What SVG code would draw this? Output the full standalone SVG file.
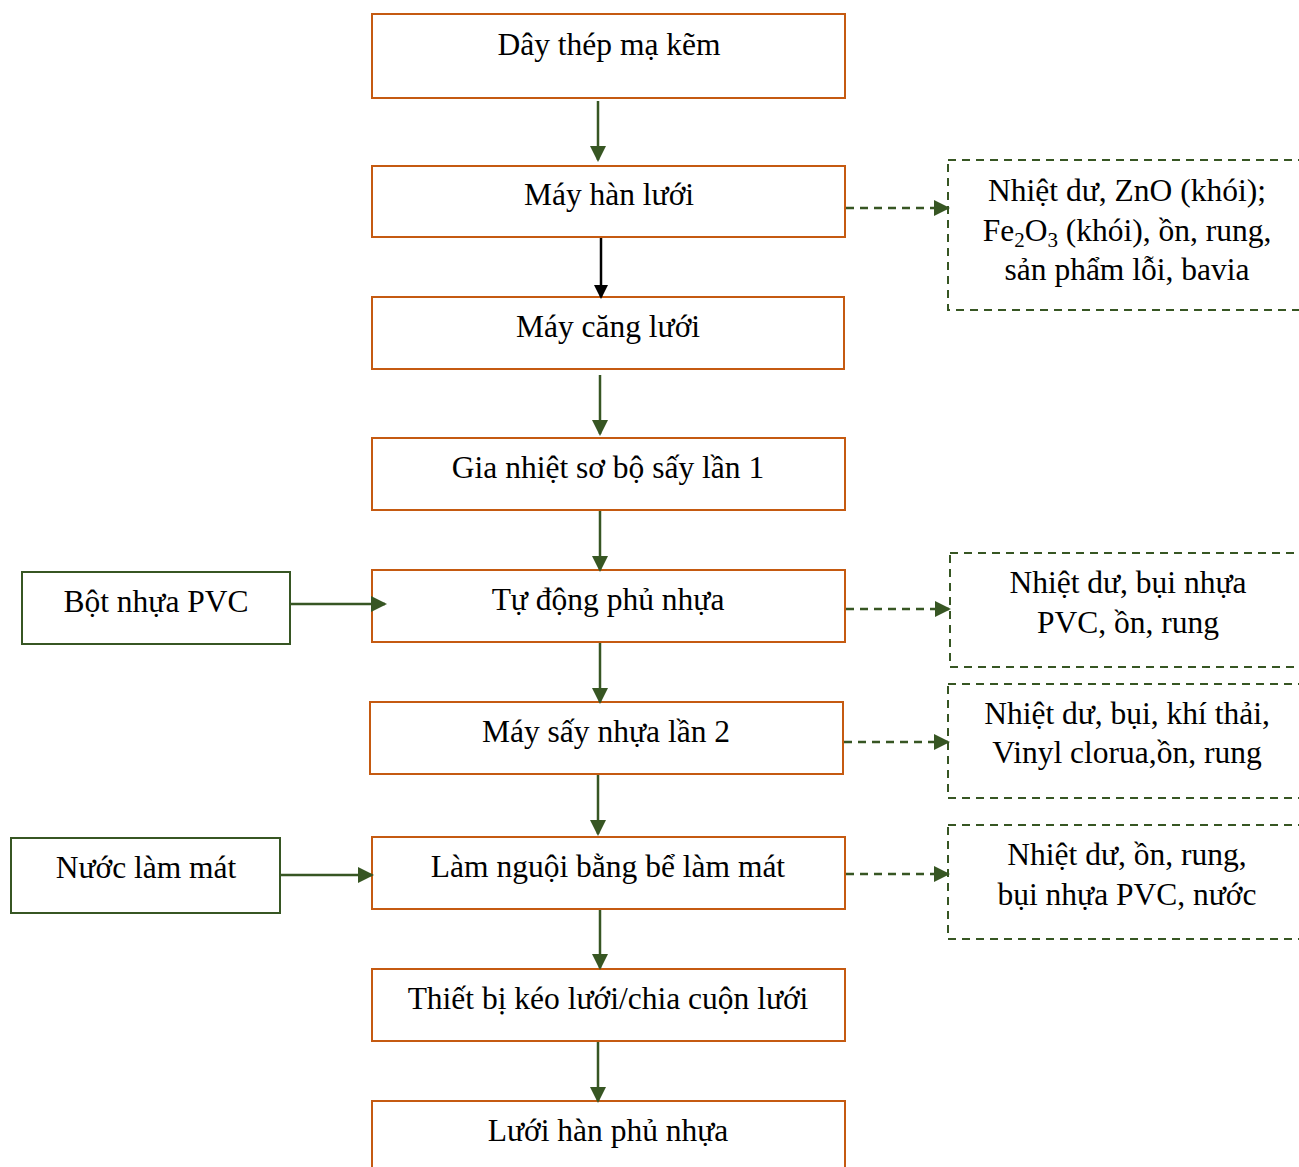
<svg xmlns="http://www.w3.org/2000/svg" width="1299" height="1167" viewBox="0 0 1299 1167">
<style>
.proc{fill:#fff;stroke:#C55A11;stroke-width:2}
.inp{fill:#fff;stroke:#375623;stroke-width:2}
.out{fill:#fff;stroke:#375623;stroke-width:2;stroke-dasharray:8,6}
text{font-family:"Liberation Serif","Times New Roman",serif;font-size:31.5px;fill:#000;text-anchor:middle}
.g{stroke:#375623;stroke-width:2.5;fill:none}
.gd{stroke:#375623;stroke-width:2.5;fill:none;stroke-dasharray:8,6}
.k{stroke:#000;stroke-width:2.5;fill:none}
</style>
<defs>
<marker id="ag" markerWidth="16" markerHeight="16" refX="14" refY="8" orient="auto" markerUnits="userSpaceOnUse"><path d="M0,0 L16,8 L0,16 z" fill="#375623"/></marker>
<marker id="ak" markerWidth="14" markerHeight="14" refX="12" refY="7" orient="auto" markerUnits="userSpaceOnUse"><path d="M0,0 L14,7 L0,14 z" fill="#000"/></marker>
</defs>
<rect width="1299" height="1167" fill="#fff"/>
<g id="n1"><rect class="proc" x="372" y="14" width="473" height="84"/><text x="609" y="55">Dây thép mạ kẽm</text></g>
<g id="n2"><rect class="proc" x="372" y="166" width="473" height="71"/><text x="609" y="205">Máy hàn lưới</text></g>
<g id="n3"><rect class="proc" x="372" y="297" width="472" height="72"/><text x="608" y="337">Máy căng lưới</text></g>
<g id="n4"><rect class="proc" x="372" y="438" width="473" height="72"/><text x="608" y="478">Gia nhiệt sơ bộ sấy lần 1</text></g>
<g id="n5"><rect class="proc" x="372" y="570" width="473" height="72"/><text x="608" y="610">Tự động phủ nhựa</text></g>
<g id="n6"><rect class="proc" x="370" y="702" width="473" height="72"/><text x="606" y="742">Máy sấy nhựa lần 2</text></g>
<g id="n7"><rect class="proc" x="372" y="837" width="473" height="72"/><text x="608" y="877">Làm nguội bằng bể làm mát</text></g>
<g id="n8"><rect class="proc" x="372" y="969" width="473" height="72"/><text x="608" y="1009">Thiết bị kéo lưới/chia cuộn lưới</text></g>
<g id="n9"><rect class="proc" x="372" y="1101" width="473" height="80"/><text x="608" y="1141">Lưới hàn phủ nhựa</text></g>
<g id="i1"><rect class="inp" x="22" y="572" width="268" height="72"/><text x="156" y="612">Bột nhựa PVC</text></g>
<g id="i2"><rect class="inp" x="11" y="838" width="269" height="75"/><text x="146" y="878">Nước làm mát</text></g>
<g id="o1"><rect class="out" x="948" y="160" width="360" height="150"/><text x="1127" y="201">Nhiệt dư, ZnO (khói);</text><text x="1127" y="241">Fe<tspan font-size="21" dy="6">2</tspan><tspan dy="-6">O</tspan><tspan font-size="21" dy="6">3</tspan><tspan dy="-6"> (khói), ồn, rung,</tspan></text><text x="1127" y="280">sản phẩm lỗi, bavia</text></g>
<g id="o2"><rect class="out" x="950" y="553" width="360" height="114"/><text x="1128" y="593">Nhiệt dư, bụi nhựa</text><text x="1128" y="633">PVC, ồn, rung</text></g>
<g id="o3"><rect class="out" x="948" y="684" width="360" height="114"/><text x="1127" y="724">Nhiệt dư, bụi, khí thải,</text><text x="1127" y="763">Vinyl clorua,ồn, rung</text></g>
<g id="o4"><rect class="out" x="948" y="825" width="360" height="114"/><text x="1127" y="865">Nhiệt dư, ồn, rung,</text><text x="1127" y="905">bụi nhựa PVC, nước</text></g>
<g id="connectors">
<line class="g" x1="598" y1="101" x2="598" y2="160" marker-end="url(#ag)"/>
<line class="k" x1="601" y1="238" x2="601" y2="297" marker-end="url(#ak)"/>
<line class="g" x1="600" y1="375" x2="600" y2="434" marker-end="url(#ag)"/>
<line class="g" x1="600" y1="511" x2="600" y2="570" marker-end="url(#ag)"/>
<line class="g" x1="600" y1="643" x2="600" y2="702" marker-end="url(#ag)"/>
<line class="g" x1="598" y1="775" x2="598" y2="834" marker-end="url(#ag)"/>
<line class="g" x1="600" y1="910" x2="600" y2="968" marker-end="url(#ag)"/>
<line class="g" x1="598" y1="1042" x2="598" y2="1101" marker-end="url(#ag)"/>
<line class="g" x1="291" y1="604" x2="385" y2="604" marker-end="url(#ag)"/>
<line class="g" x1="281" y1="875" x2="372" y2="875" marker-end="url(#ag)"/>
<line class="gd" x1="846" y1="208" x2="948" y2="208" marker-end="url(#ag)"/>
<line class="gd" x1="846" y1="609" x2="949" y2="609" marker-end="url(#ag)"/>
<line class="gd" x1="844" y1="742" x2="948" y2="742" marker-end="url(#ag)"/>
<line class="gd" x1="846" y1="874" x2="948" y2="874" marker-end="url(#ag)"/>
</g>
</svg>
